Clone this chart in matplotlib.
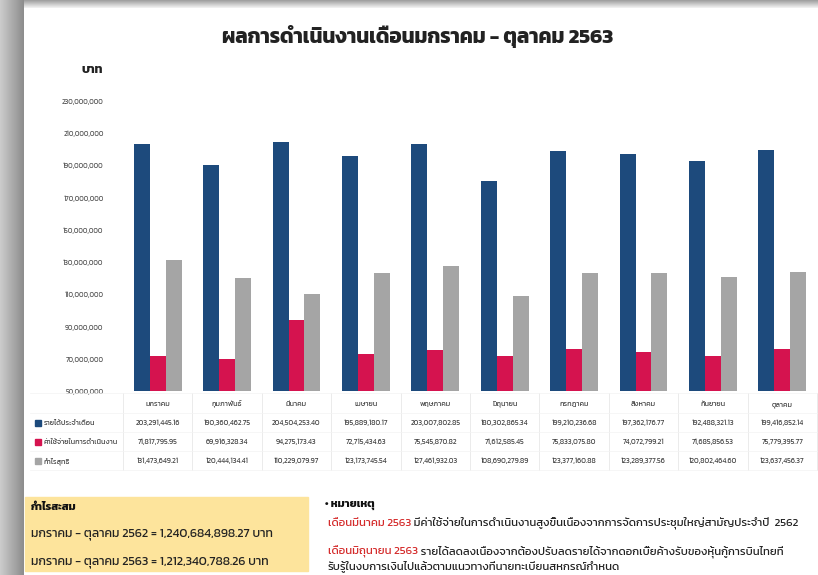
import matplotlib
matplotlib.use("Agg")
import matplotlib.pyplot as plt
import numpy as np
from matplotlib import font_manager
from matplotlib.transforms import blended_transform_factory
from matplotlib.patches import Rectangle

# pick an installed Thai font
avail = {f.name for f in font_manager.fontManager.ttflist}
def pick(names):
    for n in names:
        if n in avail:
            return n
    return 'DejaVu Sans'
thai = pick(['Kanit', 'Prompt', 'Mitr', 'Bai Jamjuree', 'Chakra Petch'])
plt.rcParams['font.family'] = [thai, 'DejaVu Sans']

months = ['มกราคม', 'กุมภาพันธ์', 'มีนาคม', 'เมษายน', 'พฤษภาคม',
          'มิถุนายน', 'กรกฎาคม', 'สิงหาคม', 'กันยายน', 'ตุลาคม']
series_names = ['รายได้ประจำเดือน', 'ค่าใช้จ่ายในการดำเนินงาน', 'กำไรสุทธิ']
income = [203291445.16, 190360462.75, 204504253.40, 195889180.17, 203007802.85,
          180302865.34, 199210236.68, 197362176.77, 192488321.13, 199416852.14]
expense = [71817795.95, 69916328.34, 94275173.43, 72715434.63, 75545870.82,
           71612585.45, 75833075.80, 74072799.21, 71685856.53, 75779395.77]
profit = [131473649.21, 120444134.41, 110229079.97, 123173745.54, 127461932.03,
          108690279.89, 123377160.88, 123289377.56, 120802464.60, 123637456.37]
yticks = [50000000, 70000000, 90000000, 110000000, 130000000,
          150000000, 170000000, 190000000, 210000000, 230000000]
colors = ['#1d4a7c', '#d5134f', '#a5a5a5']

W, H = 818, 575
fig = plt.figure(figsize=(W / 100, H / 100), dpi=100)
fig.patch.set_facecolor('white')

def fx(px):
    return px / W
def fy(py):
    return 1 - py / H

# screenshot shadow on the left and top
sh = fig.add_axes([0, 0, fx(24), 1])
sh.imshow(np.linspace(0.80, 0.55, 50).reshape(1, -1), cmap='gray', vmin=0, vmax=1,
          aspect='auto', extent=[0, 1, 0, 1])
sh.axis('off')
st = fig.add_axes([fx(24), fy(8), 1, 8 / H])
st.imshow(np.linspace(0.62, 0.95, 20).reshape(-1, 1), cmap='gray', vmin=0, vmax=1,
          aspect='auto', extent=[0, 1, 0, 1])
st.axis('off')

fig.text(fx(418), fy(37), 'ผลการดำเนินงานเดือนมกราคม - ตุลาคม 2563',
         ha='center', va='center', fontsize=14.8, fontweight='bold', color='#222222')
fig.text(fx(92), fy(70), 'บาท', ha='center', va='center', fontsize=9,
         fontweight='bold', color='#222222')

ax = fig.add_axes([fx(123), fy(391), fx(817 - 123), (391 - 101) / H])
x = np.arange(len(months))
w = 0.23
for i, vals in enumerate([income, expense, profit]):
    ax.bar(x + (i - 1) * w, vals, width=w, color=colors[i], zorder=2)
ax.set_xlim(-0.5, len(months) - 0.5)
ax.set_ylim(50000000, 230000000)
ax.set_yticks(yticks)
ax.set_yticklabels([f'{v:,.0f}' for v in yticks])
ax.tick_params(axis='y', length=0, pad=14, labelsize=5, labelcolor='#555555')
ax.set_xticks([])
for s in ax.spines.values():
    s.set_visible(False)
ax.set_facecolor('none')

# data table under the chart
tr = blended_transform_factory(ax.transData, fig.transFigure)
row_y = [404, 423, 442, 461]
for k in range(len(months) + 1):
    ax.plot([k - 0.5, k - 0.5], [fy(393), fy(470)], transform=tr, color='#e8e8e8',
            lw=0.6, clip_on=False)
for yy in [393, 413, 432, 451, 470]:
    fig.add_artist(plt.Line2D([fx(30), fx(817)], [fy(yy), fy(yy)], color='#f3f3f3', lw=0.5))
for k, m in enumerate(months):
    ax.text(k, fy(row_y[0]), m, transform=tr, ha='center', va='center',
            fontsize=5.2, color='#444444')
for r, vals in enumerate([income, expense, profit]):
    for k, v in enumerate(vals):
        ax.text(k, fy(row_y[r + 1]), f'{v:,.2f}', transform=tr, ha='center',
                va='center', fontsize=5.2, color='#444444')
    fig.add_artist(Rectangle((fx(35), fy(row_y[r + 1] + 3)), fx(6), 6 / H,
                             color=colors[r], transform=fig.transFigure))
    fig.text(fx(44), fy(row_y[r + 1]), series_names[r], ha='left', va='center',
             fontsize=5.2, color='#444444')

# accumulated profit box
fig.add_artist(Rectangle((fx(25), fy(571)), fx(308 - 25), (571 - 497) / H,
                         color='#fde49c', transform=fig.transFigure, zorder=0))
fig.text(fx(31), fy(507), 'กำไรสะสม', ha='left', va='center', fontsize=8,
         fontweight='bold', color='#111111')
fig.text(fx(31), fy(534), 'มกราคม - ตุลาคม 2562 = 1,240,684,898.27 บาท', ha='left',
         va='center', fontsize=8.9, color='#222222')
fig.text(fx(31), fy(562), 'มกราคม - ตุลาคม 2563 = 1,212,340,788.26 บาท', ha='left',
         va='center', fontsize=8.9, color='#222222')

# notes
fig.text(fx(325), fy(505), '• หมายเหตุ', ha='left', va='center', fontsize=8,
         fontweight='bold', color='#111111')
red = '#d42a2a'
fs = 8.1
t1 = fig.text(fx(328), fy(523), 'เดือนมีนาคม 2563', ha='left', va='center',
              fontsize=fs, color=red)
fig.add_artist(plt.Annotation(
    ' มีค่าใช้จ่ายในการดำเนินงานสูงขึ้นเนื่องจากการจัดการประชุมใหญ่สามัญประจำปี  2562',
    xy=(1, 0.5), xycoords=t1, ha='left', va='center', fontsize=fs, color='#222222'))
t2 = fig.text(fx(328), fy(552), 'เดือนมิถุนายน 2563', ha='left', va='center',
              fontsize=fs, color=red)
fig.add_artist(plt.Annotation(
    ' รายได้ลดลงเนื่องจากต้องปรับลดรายได้จากดอกเบี้ยค้างรับของหุ้นกู้การบินไทยที่',
    xy=(1, 0.5), xycoords=t2, ha='left', va='center', fontsize=fs, color='#222222'))
fig.text(fx(328), fy(566), 'รับรู้ในงบการเงินไปแล้วตามแนวทางที่นายทะเบียนสหกรณ์กำหนด',
         ha='left', va='center', fontsize=fs, color='#222222')

fig.savefig('out.png', dpi=100)
